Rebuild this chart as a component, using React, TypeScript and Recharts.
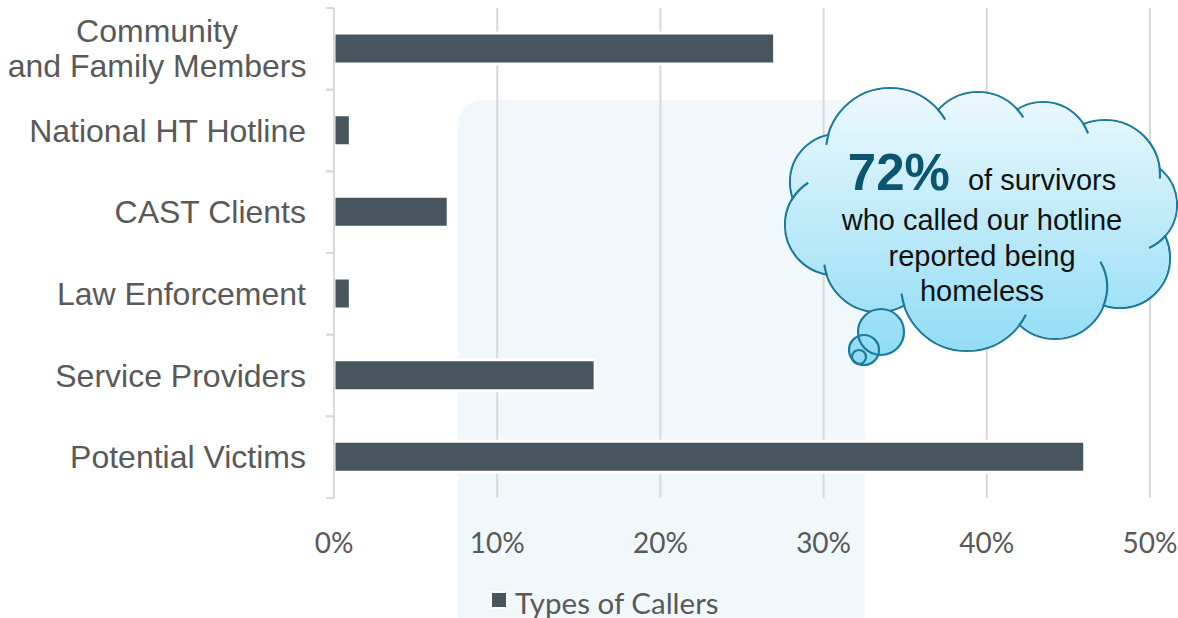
import { BarChart, Bar, XAxis, YAxis, CartesianGrid, Legend } from 'recharts';

const categories = [
  'Community\nand Family Members',
  'National HT Hotline',
  'CAST Clients',
  'Law Enforcement',
  'Service Providers',
  'Potential Victims',
];
const shares = [27, 1, 7, 1, 16, 46];
const xTicks = [0, 10, 20, 30, 40, 50];
const seriesName = 'Types of Callers';

const data = categories.map((name, i) => ({ name, value: shares[i] }));

const W = 1178;
const H = 618;
const TOP = 8;
const BOTTOM = 120;
const BAND = (H - TOP - BOTTOM) / categories.length;

const BAR = '#47555f';
const TEXT = '#595959';
const GRID = '#d9d9d9';

// cloud callout lobes, clockwise from the top-left one
const bumps = [
  [890, 152, 64],
  [978, 145, 53],
  [1043, 150, 48],
  [1105, 175, 55],
  [1130, 205, 47],
  [1120, 258, 50],
  [1055, 287, 52],
  [967, 285, 66],
  [878, 258, 54],
  [835, 225, 50],
  [838, 182, 48],
];
// little inner strokes at each lobe junction: [which side continues, length px]
const tails: [string, number][] = [
  ['fwd', 12],
  ['fwd', 10],
  ['fwd', 10],
  ['fwd', 10],
  ['fwd', 20],
  ['back', 45],
  ['back', 12],
  ['fwd', 12],
  ['fwd', 10],
  ['fwd', 22],
  ['back', 10],
];
const bubbles = [
  [881, 332, 23],
  [864, 350, 15],
  [859, 357, 7],
];

function junction(a: number[], b: number[]) {
  const [x0, y0, r0] = a;
  const [x1, y1, r1] = b;
  const dx = x1 - x0;
  const dy = y1 - y0;
  const d = Math.hypot(dx, dy);
  const l = (r0 * r0 - r1 * r1 + d * d) / (2 * d);
  const h = Math.sqrt(Math.max(0, r0 * r0 - l * l));
  const mx = x0 + (l * dx) / d;
  const my = y0 + (l * dy) / d;
  const p1 = [mx + (h * dy) / d, my - (h * dx) / d];
  const p2 = [mx - (h * dy) / d, my + (h * dx) / d];
  const dist = (p: number[]) => Math.hypot(p[0] - 975, p[1] - 215);
  return dist(p1) > dist(p2) ? p1 : p2;
}

function arcPath(c: number[], a0: number, a1: number) {
  const [cx, cy, r] = c;
  const sx = cx + r * Math.cos(a0);
  const sy = cy + r * Math.sin(a0);
  const ex = cx + r * Math.cos(a1);
  const ey = cy + r * Math.sin(a1);
  return `M ${sx} ${sy} A ${r} ${r} 0 0 1 ${ex} ${ey}`;
}

function tailPaths() {
  return bumps.map((cur, i) => {
    const next = bumps[(i + 1) % bumps.length];
    const p = junction(cur, next);
    const [mode, len] = tails[i];
    const c = mode === 'fwd' ? cur : next;
    const a = Math.atan2(p[1] - c[1], p[0] - c[0]);
    const ext = len / c[2];
    return mode === 'fwd' ? arcPath(c, a, a + ext) : arcPath(c, a - ext, a);
  });
}

function CategoryTick(props: any) {
  const { x, y, payload } = props;
  const lines = String(payload.value).split('\n');
  const font = { fontFamily: '"Liberation Sans", Arial, sans-serif', fontSize: 32, fill: TEXT };
  return (
    <g>
      <line x1={x + 20} x2={x + 28} y1={y - BAND / 2} y2={y - BAND / 2} stroke={GRID} strokeWidth={2} />
      <line x1={x + 20} x2={x + 28} y1={y + BAND / 2} y2={y + BAND / 2} stroke={GRID} strokeWidth={2} />
      {lines.length === 1 ? (
        <text x={x} y={y} dy={11} textAnchor="end" {...font}>
          {lines[0]}
        </text>
      ) : (
        lines.map((l, i) => (
          <text key={i} x={x - 149} y={y + (i - (lines.length - 1) / 2) * 35} dy={11} textAnchor="middle" {...font}>
            {l}
          </text>
        ))
      )}
    </g>
  );
}

function LegendContent() {
  return (
    <div style={{ display: 'flex', alignItems: 'center', height: 36, fontFamily: 'Lato, "Open Sans", sans-serif', fontSize: 29.5, color: TEXT }}>
      <span style={{ display: 'inline-block', width: 14, height: 14, background: BAR, marginRight: 9, outline: '2px solid #fff' }} />
      <span style={{ position: 'relative', top: 2 }}>{seriesName}</span>
    </div>
  );
}

function Cloud() {
  const stroke = '#1c7b9b';
  return (
    <svg width={W} height={H} style={{ position: 'absolute', left: 0, top: 0, pointerEvents: 'none' }}>
      <defs>
        <linearGradient id="cloudFill" gradientUnits="userSpaceOnUse" x1="0" y1="85" x2="0" y2="365">
          <stop offset="0" stopColor="#eef9fd" />
          <stop offset="1" stopColor="#8ddbf5" />
        </linearGradient>
      </defs>
      {bumps.map(([cx, cy, r], i) => (
        <circle key={'s' + i} cx={cx} cy={cy} r={r} fill="none" stroke={stroke} strokeWidth={2.2} />
      ))}
      {bumps.map(([cx, cy, r], i) => (
        <circle key={'f' + i} cx={cx} cy={cy} r={r - 1.1} fill="url(#cloudFill)" />
      ))}
      <ellipse cx={975} cy={215} rx={150} ry={90} fill="url(#cloudFill)" />
      {tailPaths().map((d, i) => (
        <path key={'a' + i} d={d} fill="none" stroke={stroke} strokeWidth={2.2} />
      ))}
      {bubbles.map(([cx, cy, r], i) => (
        <circle key={'bf' + i} cx={cx} cy={cy} r={r} fill="url(#cloudFill)" />
      ))}
      {bubbles.map(([cx, cy, r], i) => (
        <circle key={'bs' + i} cx={cx} cy={cy} r={r} fill="none" stroke={stroke} strokeWidth={2.2} />
      ))}
      <g fontFamily='"Liberation Sans", Arial, sans-serif' fontSize={29} fill="#111">
        <text x={982} y={190} textAnchor="middle">
          <tspan fontWeight="bold" fontSize={51} fill="#0b5570">72%</tspan>
          <tspan dx={18}>of survivors</tspan>
        </text>
        <text x={982} y={230} textAnchor="middle">who called our hotline</text>
        <text x={982} y={266} textAnchor="middle">reported being</text>
        <text x={982} y={301} textAnchor="middle">homeless</text>
      </g>
    </svg>
  );
}

export default function App() {
  return (
    <div style={{ position: 'absolute', left: 0, top: 0, width: W, height: H, background: '#fff', overflow: 'hidden' }}>
      <div
        style={{
          position: 'absolute',
          left: 458,
          top: 100,
          width: 407,
          height: 560,
          borderRadius: 24,
          background: '#f0f8fc',
        }}
      />
      <div style={{ position: 'absolute', left: 0, top: 0 }}>
        <BarChart width={W} height={H} data={data} layout="vertical" margin={{ top: TOP, right: 28, bottom: 0, left: 0 }}>
          <CartesianGrid horizontal={false} stroke={GRID} strokeWidth={2} />
          <XAxis
            type="number"
            domain={[0, 50]}
            ticks={xTicks}
            tickFormatter={(v) => `${v}%`}
            axisLine={false}
            tickLine={false}
            tickSize={0}
            tickMargin={35}
            height={84}
            tick={{ fill: TEXT, fontSize: 28, fontFamily: 'Lato, "Open Sans", sans-serif' }}
          />
          <YAxis
            type="category"
            dataKey="name"
            width={334}
            interval={0}
            axisLine={{ stroke: GRID, strokeWidth: 2 }}
            tickLine={false}
            tickSize={8}
            tickMargin={20}
            tick={<CategoryTick />}
          />
          <Legend
            verticalAlign="bottom"
            content={<LegendContent />}
            wrapperStyle={{ left: 492, width: 300, bottom: 0, height: 36 }}
          />
          <Bar dataKey="value" name={seriesName} fill={BAR} stroke="#fff" strokeWidth={3} barSize={31} isAnimationActive={false} />
        </BarChart>
      </div>
      <Cloud />
    </div>
  );
}
